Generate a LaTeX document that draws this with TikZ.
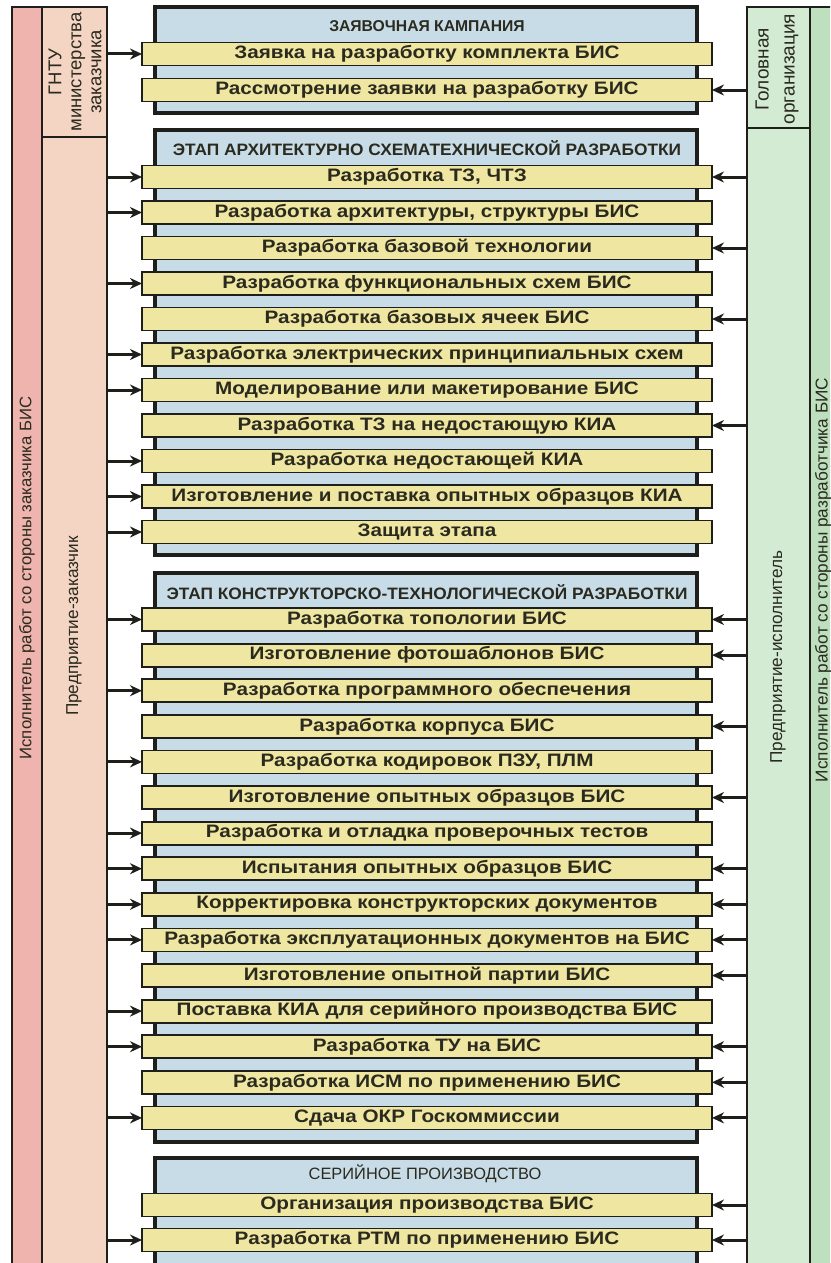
\documentclass[tikz,border=0pt]{standalone}
\usepackage{fontspec}
\setmainfont{Liberation Sans}
\newfontfamily\barfont[FakeStretch=1.15]{Liberation Sans}
\newfontfamily\ttlfont[FakeStretch=1.05]{Liberation Sans}
\usetikzlibrary{arrows.meta}
\definecolor{pinkc}{HTML}{EFB4AE}
\definecolor{peachc}{HTML}{F4D5C4}
\definecolor{greenin}{HTML}{D3EAD3}
\definecolor{greenout}{HTML}{BEE0BE}
\definecolor{stageb}{HTML}{C8DCE8}
\definecolor{bary}{HTML}{EFE6A2}
\definecolor{edge}{HTML}{1E1E1A}
\definecolor{ink}{HTML}{2A2A1E}
\begin{document}
\begin{tikzpicture}[x=1pt,y=-1pt,
 col/.style={draw=edge, line width=2.5pt, inner sep=0pt, outer sep=0pt},
 stagebox/.style={draw=edge, line width=3.4pt, fill=stageb, inner sep=0pt, outer sep=0pt, minimum width=542pt},
 bar/.style={draw=edge, line width=1.8pt, fill=bary, minimum width=570pt, minimum height=23pt, inner sep=0pt, outer sep=0pt, text=ink, font=\barfont\bfseries\fontsize{18}{18}\selectfont},
 ttl/.style={text=ink, inner sep=0pt, font=\ttlfont\bfseries\fontsize{16.5}{16.5}\selectfont},
 side/.style={rotate=90, text=ink, inner sep=0pt, font=\fontsize{17.2}{17.2}\selectfont},
 small/.style={rotate=90, text=ink, inner sep=0pt, align=center},
 arr/.style={draw=edge, line width=3pt, -{Stealth[length=12pt,width=11pt]}},
]
\useasboundingbox (0,0) rectangle (830,1263);
\fill[white] (0,0) rectangle (830,1263);
\clip (0,0) rectangle (830,1263);

% ---- side columns
\node[col, fill=pinkc, minimum width=30pt, minimum height=1290pt, anchor=north west] (pinkcol) at (12,7) {};
\node[col, fill=peachc, minimum width=65pt, minimum height=130pt, anchor=north west] (gntu) at (42,7) {};
\node[col, fill=peachc, minimum width=65pt, minimum height=1160pt, anchor=north west] (zak) at (42,137) {};
\node[col, fill=greenout, minimum width=40pt, minimum height=1290pt, anchor=north west] (greencol) at (810,7) {};
\node[col, fill=greenin, minimum width=63pt, minimum height=121pt, anchor=north west] (golov) at (747,7) {};
\node[col, fill=greenin, minimum width=63pt, minimum height=1170pt, anchor=north west] (isp) at (747,128) {};

\node[side, font=\fontsize{16.7}{16.7}\selectfont] (tpink) at (27,578) {Исполнитель работ со стороны заказчика БИС};
\node[side] (tzak) at (74,626) {Предприятие-заказчик};
\node[small, font=\fontsize{18.5}{20}\selectfont] (tgntu) at (75,72) {ГНТУ\\министерства\\заказчика};
\node[small, font=\fontsize{19}{26}\selectfont] (tgolov) at (777,69) {Головная\\организация};
\node[side] (tisp) at (778,657) {Предприятие-исполнитель};
\node[side] (tgreen) at (823,580) {Исполнитель работ со стороны разработчика БИС};

% ---- stage boxes
\node[stagebox, minimum height=106pt] (s1) at (426,60) {};
\node[stagebox, minimum height=425pt] (s2) at (426,342.5) {};
\node[stagebox, minimum height=569pt] (s3) at (426,857.5) {};
\node[stagebox, minimum height=140pt] (s4) at (426,1228) {};

\node[ttl, font=\bfseries\fontsize{15.7}{15.7}\selectfont] (t1) at (427,26) {ЗАЯВОЧНАЯ КАМПАНИЯ};
\node[ttl] (t2) at (427,148) {ЭТАП АРХИТЕКТУРНО СХЕМАТЕХНИЧЕСКОЙ РАЗРАБОТКИ};
\node[ttl] (t3) at (427,592) {ЭТАП КОНСТРУКТОРСКО-ТЕХНОЛОГИЧЕСКОЙ РАЗРАБОТКИ};
\node[ttl, font=\fontsize{16.4}{16.4}\selectfont] (t4) at (425,1174) {СЕРИЙНОЕ ПРОИЗВОДСТВО};

% ---- stage 1
\node[bar] (a1) at (427,54) {Заявка на разработку комплекта БИС};
\node[bar] (a2) at (427,90) {Рассмотрение заявки на разработку БИС};
\draw[arr] (gntu.east |- a1.west) -- (a1.west);
\draw[arr] (golov.west |- a2.east) -- (a2.east);

% ---- stage 2
\node[bar] (b1) at (427,177) {Разработка ТЗ, ЧТЗ};
\node[bar] (b2) at (427,212.5) {Разработка архитектуры, структуры БИС};
\node[bar] (b3) at (427,248) {Разработка базовой технологии};
\node[bar] (b4) at (427,283.5) {Разработка функциональных схем БИС};
\node[bar] (b5) at (427,319) {Разработка базовых ячеек БИС};
\node[bar] (b6) at (427,354.5) {Разработка электрических принципиальных схем};
\node[bar] (b7) at (427,390) {Моделирование или макетирование БИС};
\node[bar] (b8) at (427,425.5) {Разработка ТЗ на недостающую КИА};
\node[bar] (b9) at (427,461) {Разработка недостающей КИА};
\node[bar] (b10) at (427,496.5) {Изготовление и поставка опытных образцов КИА};
\node[bar] (b11) at (427,532) {Защита этапа};
\foreach \n in {b1,b2,b4,b6,b7,b9,b10,b11}
  \draw[arr] (zak.east |- \n.west) -- (\n.west);
\foreach \n in {b1,b3,b5,b8}
  \draw[arr] (isp.west |- \n.east) -- (\n.east);

% ---- stage 3
\node[bar] (c1) at (427,619.5) {Разработка топологии БИС};
\node[bar] (c2) at (427,655.1) {Изготовление фотошаблонов БИС};
\node[bar] (c3) at (427,690.7) {Разработка программного обеспечения};
\node[bar] (c4) at (427,726.3) {Разработка корпуса БИС};
\node[bar] (c5) at (427,761.9) {Разработка кодировок ПЗУ, ПЛМ};
\node[bar] (c6) at (427,797.5) {Изготовление опытных образцов БИС};
\node[bar] (c7) at (427,833.1) {Разработка и отладка проверочных тестов};
\node[bar] (c8) at (427,868.7) {Испытания опытных образцов БИС};
\node[bar] (c9) at (427,904.3) {Корректировка конструкторских документов};
\node[bar] (c10) at (427,939.9) {Разработка эксплуатационных документов на БИС};
\node[bar] (c11) at (427,975.5) {Изготовление опытной партии БИС};
\node[bar] (c12) at (427,1011.1) {Поставка КИА для серийного производства БИС};
\node[bar] (c13) at (427,1046.7) {Разработка ТУ на БИС};
\node[bar] (c14) at (427,1082.3) {Разработка ИСМ по применению БИС};
\node[bar] (c15) at (427,1117.9) {Сдача ОКР Госкоммиссии};
\foreach \n in {c1,c3,c5,c7,c8,c9,c10,c12,c13,c15}
  \draw[arr] (zak.east |- \n.west) -- (\n.west);
\foreach \n in {c1,c2,c4,c6,c8,c9,c10,c11,c13,c14,c15}
  \draw[arr] (isp.west |- \n.east) -- (\n.east);

% ---- stage 4
\node[bar] (d1) at (427,1205) {Организация производства БИС};
\node[bar] (d2) at (427,1240) {Разработка РТМ по применению БИС};
\draw[arr] (zak.east |- d2.west) -- (d2.west);
\foreach \n in {d1,d2}
  \draw[arr] (isp.west |- \n.east) -- (\n.east);
\end{tikzpicture}
\end{document}
